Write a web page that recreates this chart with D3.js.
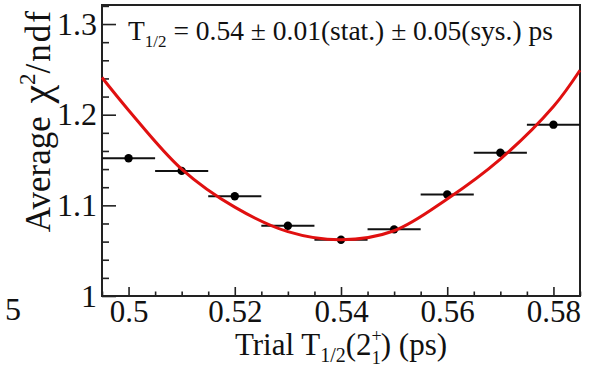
<!DOCTYPE html>
<html>
<head>
<meta charset="utf-8">
<script src="https://cdn.jsdelivr.net/npm/d3@7"></script>
<style>
  body { margin: 0; background: #fff; }
  text { font-family: "Liberation Serif", "Times New Roman", "DejaVu Serif", serif; fill: #111; }
</style>
</head>
<body>
<svg id="chart" width="603" height="368"></svg>
<script>
// trial half-lives (ps) and the average chi2/ndf
const trialT = [0.50, 0.51, 0.52, 0.53, 0.54, 0.55, 0.56, 0.57, 0.58];
const avgChi2 = [1.152, 1.138, 1.110, 1.0775, 1.062, 1.0735, 1.112, 1.158, 1.189];
const halfBin = 0.005;

// red fit curve
const fitX = [0.495, 0.50, 0.51, 0.52, 0.53, 0.54, 0.55, 0.56, 0.57, 0.58, 0.585];
const fitY = [1.241, 1.205, 1.140, 1.098, 1.071, 1.062, 1.072, 1.107, 1.151, 1.209, 1.249];

const xMajor = [0.50, 0.52, 0.54, 0.56, 0.58];
const yMajor = [1.0, 1.1, 1.2, 1.3];

const frameL = 102, frameR = 580, frameT = 5, frameB = 296;

const svg = d3.select('#chart');

const xscale = d3.scaleLinear()
  .domain([0.495, 0.585])
  .range([frameL, frameR]);

const yscale = d3.scaleLinear()
  .domain([1.0, 1.321])
  .range([frameB, frameT]);

// minor tick positions
const xMinor = d3.range(0, 19).map((i) => +(0.495 + i * 0.005).toFixed(3))
  .filter((v) => !xMajor.some((m) => Math.abs(m - v) < 1e-6));
const yMinor = d3.range(0, 17).map((i) => +(1.0 + i * 0.02).toFixed(2))
  .filter((v) => !yMajor.some((m) => Math.abs(m - v) < 1e-6));

const fmt = (d) => `${+d.toFixed(2)}`;

// x axis, ticks inside the frame
svg.append('g')
  .attr('transform', `translate(0, ${frameB})`)
  .call(d3.axisBottom(xscale).tickValues(xMinor).tickSize(-4.5).tickFormat(''))
  .call((g) => g.select('.domain').remove());

const xAxis = svg.append('g')
  .attr('transform', `translate(0, ${frameB})`)
  .call(d3.axisBottom(xscale).tickValues(xMajor).tickSizeInner(-9).tickSizeOuter(0)
    .tickPadding(4).tickFormat(fmt));
xAxis.select('.domain').remove();
xAxis.selectAll('text').attr('font-size', 31);

// y axis
svg.append('g')
  .attr('transform', `translate(${frameL}, 0)`)
  .call(d3.axisLeft(yscale).tickValues(yMinor).tickSize(-7).tickFormat(''))
  .call((g) => g.select('.domain').remove());

const yAxis = svg.append('g')
  .attr('transform', `translate(${frameL}, 0)`)
  .call(d3.axisLeft(yscale).tickValues(yMajor).tickSizeInner(-14).tickSizeOuter(0)
    .tickPadding(5).tickFormat(fmt));
yAxis.select('.domain').remove();
yAxis.selectAll('text').attr('font-size', 32);

svg.selectAll('g').attr('font-family', null);
svg.selectAll('.tick line').attr('stroke', '#222').attr('stroke-width', 1.6);

// frame
svg.append('rect')
  .attr('x', frameL)
  .attr('y', frameT)
  .attr('width', frameR - frameL)
  .attr('height', frameB - frameT)
  .attr('fill', 'none')
  .attr('stroke', '#222')
  .attr('stroke-width', 2);

// data points with horizontal error bars
const points = trialT.map((t, i) => ({ t, chi: avgChi2[i] }));

svg.append('g')
  .selectAll('line')
  .data(points)
  .enter()
  .append('line')
  .attr('x1', (d) => xscale(d.t - halfBin))
  .attr('x2', (d) => xscale(d.t + halfBin))
  .attr('y1', (d) => yscale(d.chi))
  .attr('y2', (d) => yscale(d.chi))
  .attr('stroke', '#111')
  .attr('stroke-width', 2);

svg.append('g')
  .selectAll('circle')
  .data(points)
  .enter()
  .append('circle')
  .attr('cx', (d) => xscale(d.t))
  .attr('cy', (d) => yscale(d.chi))
  .attr('r', 4.2)
  .attr('fill', '#000');

// fit curve
const line = d3.line()
  .x((d) => xscale(d[0]))
  .y((d) => yscale(d[1]))
  .curve(d3.curveCatmullRom);

svg.append('path')
  .datum(fitX.map((x, i) => [x, fitY[i]]))
  .attr('d', line)
  .attr('fill', 'none')
  .attr('stroke', '#e01010')
  .attr('stroke-width', 3);

// annotation
const note = svg.append('text')
  .attr('x', 128)
  .attr('y', 40)
  .attr('font-size', 27.5);
note.append('tspan').text('T');
note.append('tspan').attr('font-size', 17).attr('dy', 7).text('1/2');
note.append('tspan').attr('dy', -7).text(' = 0.54 ± 0.01(stat.) ± 0.05(sys.) ps');

// x title
const xTitle = svg.append('text')
  .attr('x', (frameL + frameR) / 2)
  .attr('y', 355)
  .attr('text-anchor', 'middle')
  .attr('font-size', 31);
xTitle.append('tspan').text('Trial T');
xTitle.append('tspan').attr('font-size', 20).attr('dy', 7).text('1/2');
xTitle.append('tspan').attr('dy', -7).text('(2');
xTitle.append('tspan').attr('font-size', 18).attr('dy', -13).text('+');
xTitle.append('tspan').attr('font-size', 18).attr('dx', -10).attr('dy', 22).text('1');
xTitle.append('tspan').attr('dy', -9).text(') (ps)');

// y title
const yTitle = svg.append('text')
  .attr('transform', 'translate(50, 9) rotate(-90)')
  .attr('text-anchor', 'end')
  .attr('font-size', 35);
yTitle.append('tspan').text('Average ');
yTitle.append('tspan').attr('font-size', 42).attr('dx', 4).text('χ');
yTitle.append('tspan').attr('font-size', 23).attr('dy', -15).text('2');
yTitle.append('tspan').attr('dy', 15).attr('letter-spacing', 2).text('/ndf');

// cut-off label from the neighbouring panel
svg.append('text')
  .attr('x', 5)
  .attr('y', 320)
  .attr('font-size', 32)
  .text('5');
</script>
</body>
</html>
